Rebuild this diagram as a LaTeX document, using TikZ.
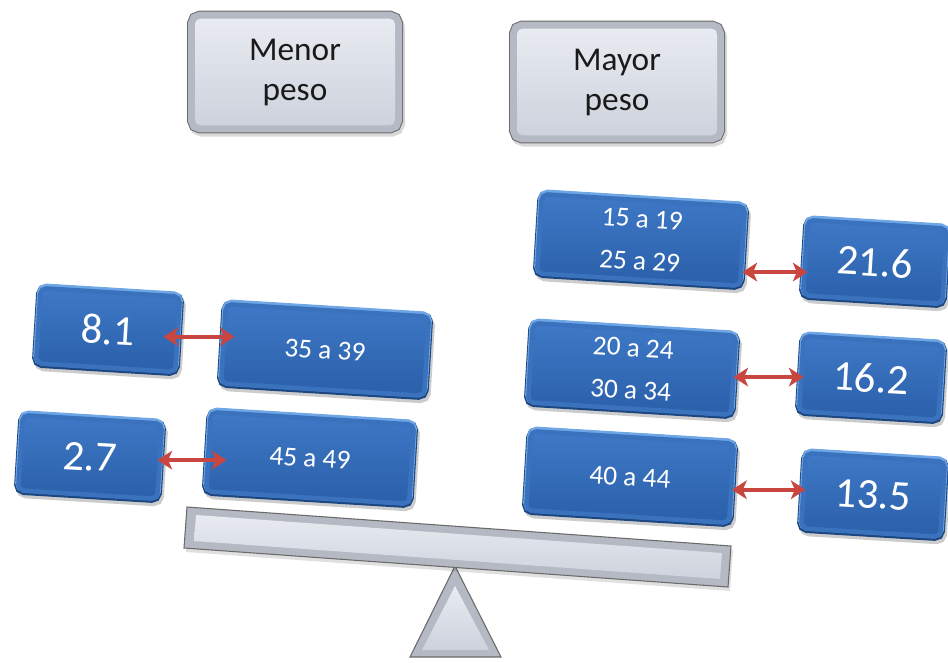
\documentclass[tikz,border=0pt]{standalone}
\usepackage{fontspec}
\setmainfont{Carlito}
\usetikzlibrary{arrows.meta,calc}
\definecolor{bface1}{HTML}{3E78C6}
\definecolor{bface2}{HTML}{2B60AA}
\definecolor{bedge}{HTML}{3A72BE}
\definecolor{bline}{HTML}{1C4680}
\definecolor{bhigh}{HTML}{6FA6E6}
\definecolor{gface1}{HTML}{E8EBF1}
\definecolor{gface2}{HTML}{CDD2DC}
\definecolor{gedge}{HTML}{B4B9C4}
\definecolor{gline}{HTML}{6A6A6A}
\definecolor{arrred}{HTML}{C8463F}
\definecolor{txtdark}{HTML}{1A1A1A}
\begin{document}
\begin{tikzpicture}[x=0.75pt,y=-0.75pt,
  bluebox/.style={rotate=-3.5, rounded corners=3pt, inner sep=0pt, align=center, text=white,
    preaction={draw=black, draw opacity=0.2, line width=10pt, transform canvas={shift={(1.5pt,-2.5pt)}}},
    preaction={draw=bline, line width=10pt},
    preaction={draw=bhigh, line width=8.5pt, transform canvas={shift={(0pt,1.2pt)}}},
    preaction={draw=bedge, line width=7pt},
    top color=bface1, bottom color=bface2},
  bigbox/.style={bluebox, minimum width=149pt, minimum height=56pt, font=\fontsize{20.5}{32}\selectfont},
  valbox/.style={bluebox, minimum width=101pt, minimum height=53pt, font=\fontsize{32}{36}\selectfont},
  graybox/.style={rounded corners=4pt, inner sep=0pt, align=center, text=txtdark,
    minimum width=150pt, minimum height=80pt, font=\fontsize{25}{30}\selectfont,
    preaction={draw=black, draw opacity=0.15, line width=12pt, transform canvas={shift={(1.5pt,-2.5pt)}}},
    preaction={draw=gline, line width=12pt},
    preaction={draw=gedge, line width=10.5pt},
    top color=gface1, bottom color=gface2},
  arr/.style={draw=arrred, line width=3pt,
    arrows={Stealth[length=11pt,width=14pt,inset=3pt]-Stealth[length=11pt,width=14pt,inset=3pt]}}
]
\useasboundingbox (0,0) rectangle (948,662);

% fulcrum and beam
\fill[gedge, draw=gline, line width=0.8pt] (455,566) -- (501,657) -- (410,657) -- cycle;
\shade[top color=gface1, bottom color=gface2] (455,586) -- (489,650) -- (422,650) -- cycle;
\fill[black, opacity=0.12] (189,511) -- (733,550) -- (730,591) -- (186,552) -- cycle;
\fill[gedge, draw=gline, line width=0.8pt] (187,507) -- (731,546) -- (728,587) -- (184,548) -- cycle;
\shade[top color=gface1, bottom color=gface2] (196,515) -- (722,553) -- (720,579) -- (194,541) -- cycle;

% titles
\node[graybox] (menor) at (295,72) {Menor\\peso};
\node[graybox] (mayor) at (617,82) {Mayor\\peso};

% right side
\node[bigbox] (B1) at (641,240) {15 a 19\\25 a 29};
\node[valbox] (V1) at (875,262) {21.6};
\node[bigbox] (B2) at (632,369) {20 a 24\\30 a 34};
\node[valbox] (V2) at (871,378) {16.2};
\node[bigbox] (B3) at (630,477) {40 a 44};
\node[valbox] (V3) at (873,495) {13.5};

% left side
\node[valbox] (V4) at (108,330) {8.1};
\node[bigbox] (B4) at (325,350) {35 a 39};
\node[valbox] (V5) at (90,457) {2.7};
\node[bigbox] (B5) at (310,458) {45 a 49};

% arrows
\coordinate (a1) at ($(B1.east)+(1.5pt,-19.5pt)$);
\draw[arr] (a1) -- (a1 -| V1.west);
\coordinate (a2) at ($(B2.east)+(1.5pt,-1.5pt)$);
\draw[arr] (a2) -- (a2 -| V2.west);
\coordinate (a3) at ($(B3.east)+(2pt,-5pt)$);
\draw[arr] (a3) -- (a3 -| V3.west);
\coordinate (a4) at ($(V4.east)+(-9pt,-2pt)$);
\draw[arr] (a4) -- ($(a4 -| B4.west)+(6.75pt,0pt)$);
\coordinate (a5) at ($(V5.east)+(0pt,0.75pt)$);
\draw[arr] (a5) -- ($(a5 -| B5.west)+(12pt,0pt)$);
\end{tikzpicture}
\end{document}
